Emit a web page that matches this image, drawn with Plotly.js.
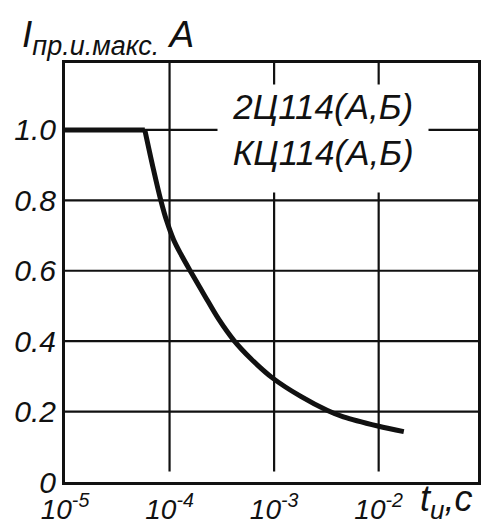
<!DOCTYPE html>
<html>
<head>
<meta charset="utf-8">
<script src="https://cdn.plot.ly/plotly-3.0.1.min.js"></script>
<style>html,body{margin:0;padding:0;background:#fff;}#chart{width:481px;height:526px;}</style>
</head>
<body>
<div id="chart"></div>
<script>
// Plateau segment (t, s ; I, A)
const plateauT = [1e-5, 5.8e-5];
const plateauI = [1.0, 1.0];
// Decay segment
const decayT = [5.8e-5, 7.0e-5, 8.2e-5, 9.4e-5, 1.09e-4, 1.3e-4, 1.59e-4, 2.16e-4, 2.94e-4, 4.1e-4, 6.0e-4, 9.7e-4, 1.8e-3, 3.24e-3, 4.6e-3, 9.8e-3, 1.74e-2];
const decayI = [1.0, 0.889, 0.803, 0.741, 0.689, 0.644, 0.598, 0.530, 0.463, 0.403, 0.350, 0.295, 0.243, 0.203, 0.185, 0.159, 0.143];
// Ticks / grid
const xTickVals = [1e-5, 1e-4, 1e-3, 1e-2];
const xTickText = ['10<sup>-5</sup>', '10<sup>-4</sup>', '10<sup>-3</sup>', '10<sup>-2</sup>'];
const yTickVals = [0, 0.2, 0.4, 0.6, 0.8, 1.0];
const yTickText = ['0', '0.2', '0.4', '0.6', '0.8', '1.0'];
const xGridVals = [1e-4, 1e-3, 1e-2];
const yGridVals = [0.2, 0.4, 0.6, 0.8, 1.0];
const deviceLabel = '2Ц114(А,Б)<br>КЦ114(А,Б)';

const X_RANGE = [-5, -1.05];
const FONT = '"Liberation Sans", Arimo, sans-serif';
const ink = '#111';

const traces = [
  {x: plateauT, y: plateauI, mode: 'lines', line: {color: ink, width: 5}, showlegend: false, hoverinfo: 'skip'},
  {x: decayT, y: decayI, mode: 'lines', line: {color: ink, width: 5, shape: 'spline', smoothing: 1}, showlegend: false, hoverinfo: 'skip'}
];

const toPaperX = v => (Math.log10(v) - X_RANGE[0]) / (X_RANGE[1] - X_RANGE[0]);
const shapes = [];
xGridVals.forEach(v => shapes.push({type: 'line', layer: 'below', xref: 'paper', yref: 'paper',
  x0: toPaperX(v), x1: toPaperX(v), y0: 0.025, y1: 1, line: {color: ink, width: 2.2}}));
yGridVals.forEach(v => shapes.push({type: 'line', layer: 'below', xref: 'paper', yref: 'y',
  x0: 0, x1: 1, y0: v, y1: v, line: {color: ink, width: 2.2}}));

const layout = {
  width: 481, height: 526,
  margin: {l: 65, r: 3, t: 63, b: 44},
  paper_bgcolor: '#fff', plot_bgcolor: '#fff',
  shapes: shapes,
  xaxis: {
    type: 'log', range: X_RANGE,
    tickvals: xTickVals, ticktext: xTickText,
    showgrid: false,
    showline: true, linecolor: ink, linewidth: 3, mirror: true,
    ticks: '', zeroline: false,
    tickfont: {family: FONT, size: 28, color: ink, style: 'italic'}
  },
  yaxis: {
    range: [0, 1.19],
    tickvals: yTickVals, ticktext: yTickText,
    showgrid: false,
    showline: true, linecolor: ink, linewidth: 3, mirror: true,
    ticks: '', zeroline: false,
    tickfont: {family: FONT, size: 30, color: ink, style: 'italic'}
  },
  annotations: [
    {
      xref: 'paper', yref: 'paper', x: 0.625, y: 0.82,
      xanchor: 'center', yanchor: 'middle',
      text: deviceLabel, showarrow: false,
      bgcolor: '#fff', width: 206, height: 103, borderpad: 2, valign: 'top',
      font: {family: FONT, size: 35, color: ink, style: 'italic'}
    },
    {
      xref: 'paper', yref: 'paper', x: -0.11, y: 1.06,
      xanchor: 'left', yanchor: 'middle', showarrow: false,
      text: 'I<sub><span style="font-size:27px">пр.и.макс.</span></sub> А',
      font: {family: FONT, size: 37, color: ink, style: 'italic'}
    },
    {
      xref: 'paper', yref: 'paper', x: 0.992, y: -0.047,
      xanchor: 'right', yanchor: 'middle', showarrow: false,
      text: 't<sub><span style="font-size:26px">и</span></sub>,с',
      font: {family: FONT, size: 36, color: ink, style: 'italic'}
    }
  ]
};

Plotly.newPlot('chart', traces, layout, {displayModeBar: false, staticPlot: true});
</script>
</body>
</html>
